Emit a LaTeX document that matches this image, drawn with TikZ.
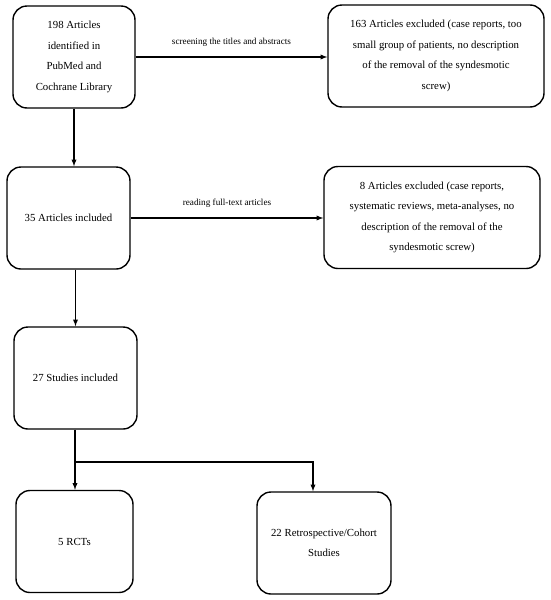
\documentclass[tikz,border=0pt]{standalone}
\usepackage{fontspec}
\setmainfont{Liberation Serif}
\usetikzlibrary{arrows,positioning}

\begin{document}
\begin{tikzpicture}[x=1pt,y=-1pt,>=latex,
  stage/.style={draw,rounded corners=14pt,line width=1.4pt,align=center,
    font=\fontsize{10.8}{20.5}\selectfont,minimum height=102pt},
  flow/.style={->,line width=1.3pt},
  note/.style={font=\fontsize{9.2}{10}\selectfont}]

\useasboundingbox (0,0) rectangle (550,600);

\node[stage,minimum width=122pt] (found) at (74,57)
  {198 Articles\\identified in\\PubMed and\\Cochrane Library};
\node[stage,minimum width=216pt] (excl1) at (436,56)
  {163 Articles excluded (case reports, too\\small group of patients, no description\\of the removal of the syndesmotic\\screw)};

\node[stage,minimum width=123pt] (arts) at (68.5,218) {35 Articles included};
\node[stage,minimum width=216pt] (excl2) at (432,217.5)
  {8 Articles excluded (case reports,\\systematic reviews, meta-analyses, no\\description of the removal of the\\syndesmotic screw)};

\node[stage,minimum width=123pt] (studies) at (75.5,378) {27 Studies included};

\node[stage,minimum width=117pt] (rct) at (74.5,541.5) {5 RCTs};
\node[stage,minimum width=134pt] (cohort) at (324,543)
  {22 Retrospective/Cohort\\Studies};

\coordinate (split) at (75,462);

\draw[flow] (found.east) -- (found.east -| excl1.west)
  node[note,midway,above=7pt] {screening the titles and abstracts};
\draw[flow] (arts.east) -- (arts.east -| excl2.west)
  node[note,midway,above=7pt] {reading full-text articles};

\draw[flow] (found.south) -- (found.south |- arts.north);
\draw[flow] (studies.north |- arts.south) -- (studies.north);

\draw[line width=1.3pt] (studies.south -| split) -- (split);
\draw[flow] (split) -- (split |- rct.north);
\draw[flow] (split) -| ([xshift=-11pt]cohort.north);

\end{tikzpicture}
\end{document}
